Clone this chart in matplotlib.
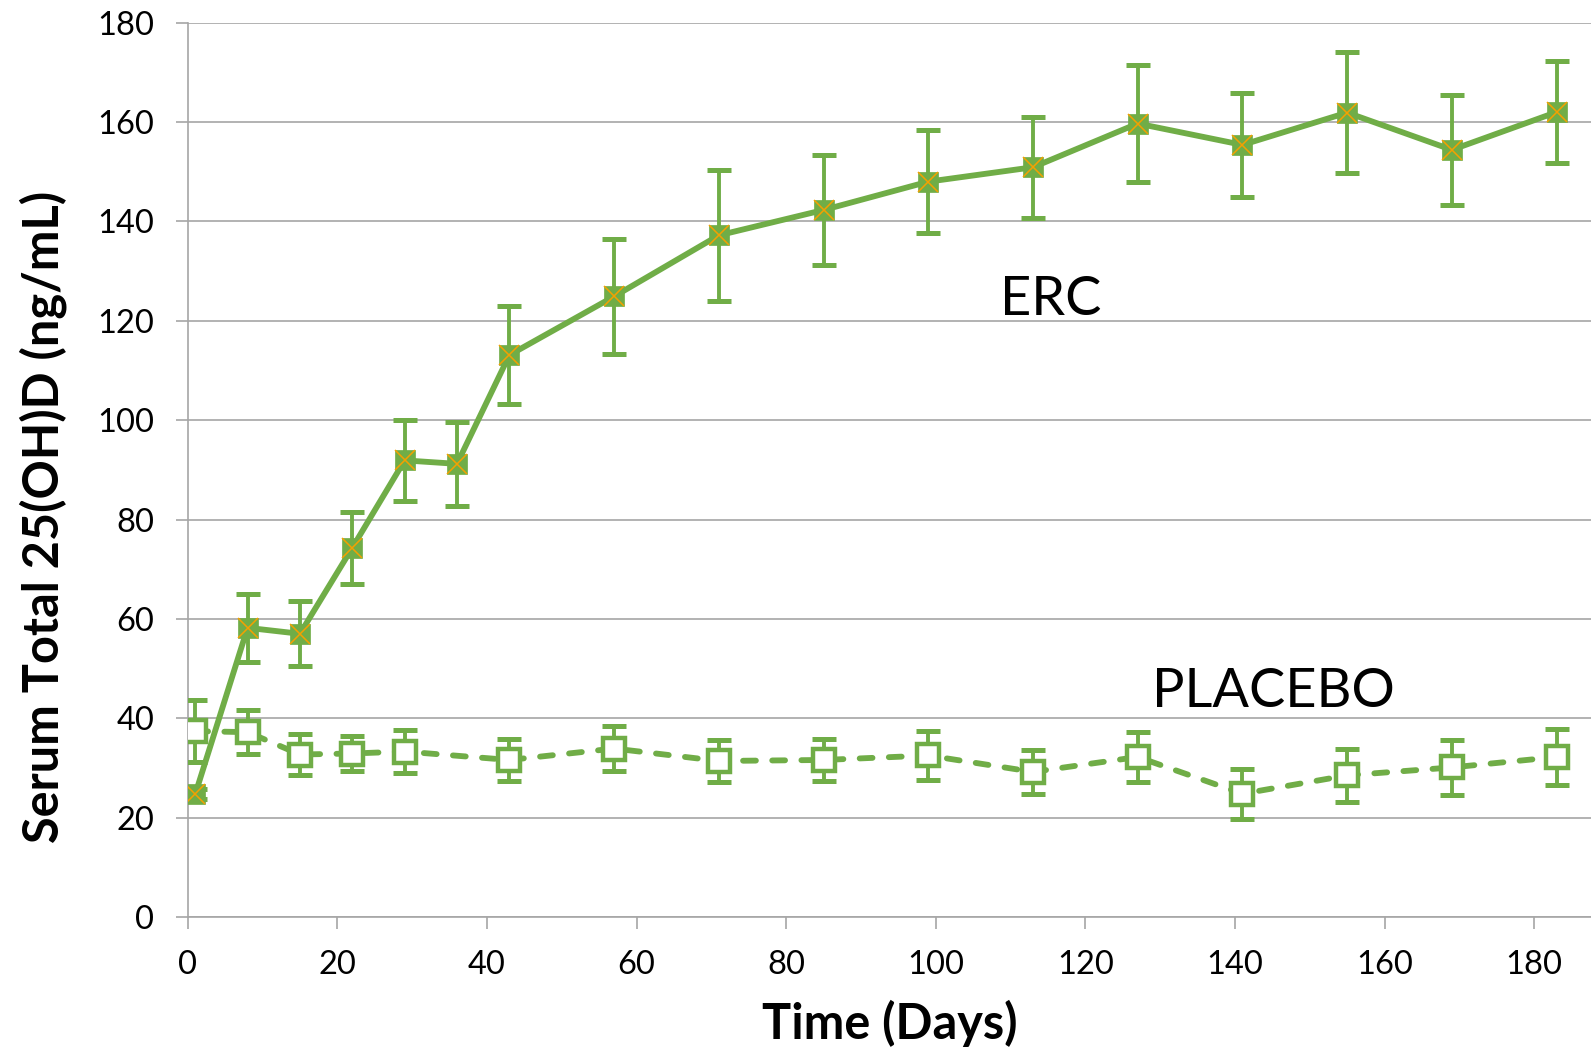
import matplotlib
matplotlib.use("Agg")
import matplotlib.pyplot as plt

# ---- data ----
days_erc = [1, 8, 15, 22, 29, 36, 43, 57, 71, 85, 99, 113, 127, 141, 155, 169, 183]
erc_mean = [24.7, 58.2, 57.0, 74.3, 91.9, 91.2, 113.1, 124.9, 137.2, 142.3, 148.0,
            150.9, 159.7, 155.4, 161.9, 154.4, 162.0]
erc_err = [1.0, 6.9, 6.5, 7.3, 8.2, 8.5, 9.9, 11.6, 13.2, 11.0, 10.4, 10.2, 11.7,
           10.5, 12.1, 11.1, 10.3]

days_pbo = [1, 8, 15, 22, 29, 43, 57, 71, 85, 99, 113, 127, 141, 155, 169, 183]
pbo_mean = [37.4, 37.2, 32.7, 32.9, 33.3, 31.6, 33.9, 31.4, 31.6, 32.5, 29.2, 32.2,
            24.8, 28.5, 30.1, 32.2]
pbo_err = [6.2, 4.4, 4.1, 3.6, 4.4, 4.3, 4.6, 4.3, 4.3, 5.0, 4.4, 5.1, 5.0, 5.3, 5.6, 5.7]

x_ticks = [0, 20, 40, 60, 80, 100, 120, 140, 160, 180]
y_ticks = [0, 20, 40, 60, 80, 100, 120, 140, 160, 180]

GREEN = "#70AD47"
ORANGE = "#F5A000"
GRID = "#A6A6A6"

plt.rcParams['font.family'] = ['Lato', 'DejaVu Sans']

fig = plt.figure(figsize=(15.91, 10.5), dpi=100)
ax = fig.add_axes([0.118, 0.1267, 0.882, 0.8517])

ax.set_xlim(0, 187.6)
ax.set_ylim(0, 180)

# grid
ax.set_yticks(y_ticks)
ax.set_xticks(x_ticks)
ax.yaxis.grid(True, color=GRID, linewidth=1.2, zorder=0)
ax.set_axisbelow(True)
for s in ['top', 'right']:
    ax.spines[s].set_visible(False)
for s in ['left', 'bottom']:
    ax.spines[s].set_color(GRID)
    ax.spines[s].set_linewidth(1.2)
ax.tick_params(axis='both', direction='out', length=8.6, width=1.2, color=GRID,
               labelsize=23.5, pad=15.5, labelcolor='black')

# placebo
ax.errorbar(days_pbo, pbo_mean, yerr=pbo_err, fmt='none', ecolor=GREEN,
            elinewidth=2.8, capsize=8.5, capthick=3.6, zorder=3)
ax.plot(days_pbo, pbo_mean, color=GREEN, linewidth=4.2, linestyle=(0, (2.2, 2.8)),
        dash_capstyle='round', zorder=4)
ax.plot(days_pbo, pbo_mean, linestyle='none', marker='s', markersize=16,
        markerfacecolor='white', markeredgecolor=GREEN, markeredgewidth=3.2, zorder=5)

# ERC
ax.errorbar(days_erc, erc_mean, yerr=erc_err, fmt='none', ecolor=GREEN,
            elinewidth=2.8, capsize=8.5, capthick=3.6, zorder=6)
ax.plot(days_erc, erc_mean, color=GREEN, linewidth=4.2, solid_capstyle='round', zorder=7)
ax.plot(days_erc, erc_mean, linestyle='none', marker='s', markersize=15,
        markerfacecolor=GREEN, markeredgecolor=GREEN, markeredgewidth=0.5, zorder=8)
ax.plot(days_erc, erc_mean, linestyle='none', marker='x', markersize=14,
        markeredgecolor=ORANGE, markeredgewidth=1.1, zorder=9)

# annotations
ax.text(115.3, 121.1, "ERC", fontsize=39, ha='center', va='baseline', color='black')
ax.text(145.2, 42.2, "PLACEBO", fontsize=39, ha='center', va='baseline', color='black')

fig.text(0.5594, 0.0257, "Time (Days)", fontsize=35, fontweight='bold',
         ha='center', va='center')
fig.text(0.027, 0.508, "Serum Total 25(OH)D (ng/mL)", fontsize=35, fontweight='bold',
         ha='center', va='center', rotation=90)

fig.savefig("out.png", dpi=100)
